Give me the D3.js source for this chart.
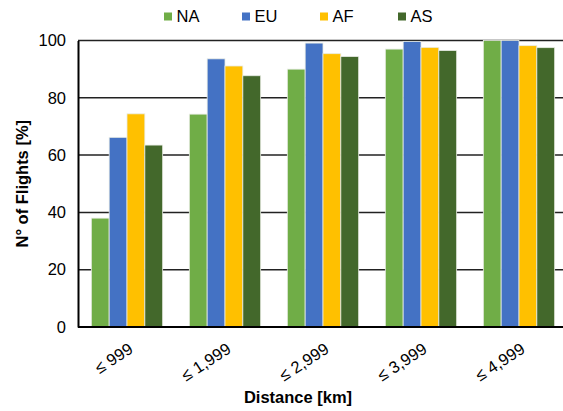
<!DOCTYPE html>
<html>
<head>
<meta charset="utf-8">
<script src="https://cdn.jsdelivr.net/npm/d3@7"></script>
<style>
  body { margin: 0; background: #fff; }
  text { font-family: "Liberation Sans", Arial, sans-serif; fill: #000; }
</style>
</head>
<body>
<div id="chart"></div>
<script>
// categories and series
const categories = ["≤ 999", "≤ 1,999", "≤ 2,999", "≤ 3,999", "≤ 4,999"];
const seriesNames = ["NA", "EU", "AF", "AS"];
const seriesColors = ["#70ad47", "#4472c4", "#ffc000", "#43682b"];
const valuesNA = [38.0, 74.3, 90.0, 97.0, 100];
const valuesEU = [66.2, 93.6, 99.1, 99.7, 100];
const valuesAF = [74.4, 91.1, 95.4, 97.6, 98.2];
const valuesAS = [63.5, 87.7, 94.4, 96.5, 97.5];
const yTicks = [0, 20, 40, 60, 80, 100];

const allValues = [valuesNA, valuesEU, valuesAF, valuesAS];

// set the dimensions and margins of the graph
const W = 563, H = 411;
const margin = { top: 40.5, right: 0, bottom: 84, left: 78 };
const width = W - margin.left - margin.right,
    height = H - margin.top - margin.bottom;
const fontSize = "16.5px";

const svg = d3.select("#chart")
    .append("svg")
    .attr("width", W)
    .attr("height", H);

const g = svg.append("g")
    .attr("transform", `translate(${margin.left},${margin.top})`);

// scales
const x = d3.scaleBand()
    .domain(categories)
    .range([0, 490])
    .paddingInner(0.272)
    .paddingOuter(0.136);

const xInner = d3.scaleBand()
    .domain(seriesNames)
    .range([0, x.bandwidth()]);

const y = d3.scaleLinear()
    .domain([0, 100])
    .range([height, 0]);

// gridlines
g.append("g")
    .selectAll("line")
    .data(yTicks.slice(1))
    .join("line")
    .attr("x1", 0)
    .attr("x2", width)
    .attr("y1", d => y(d))
    .attr("y2", d => y(d))
    .attr("stroke", "#222")
    .attr("stroke-width", 1.5);

// bars
const groups = g.selectAll("g.grp")
    .data(categories)
    .join("g")
    .attr("class", "grp")
    .attr("transform", d => `translate(${x(d)},0)`);

groups.selectAll("rect")
    .data((d, i) => seriesNames.map((s, j) => ({ s: s, v: allValues[j][i], c: seriesColors[j] })))
    .join("rect")
    .attr("x", d => xInner(d.s))
    .attr("width", xInner.bandwidth())
    .attr("y", d => y(d.v))
    .attr("height", d => height - y(d.v))
    .attr("fill", d => d.c)
    .attr("stroke", "#e8ece4")
    .attr("stroke-width", 0.8);

// Y axis
const yAxis = g.append("g")
    .call(d3.axisLeft(y).tickValues(yTicks).tickSize(0).tickPadding(12));
yAxis.select(".domain").attr("stroke", "#000").attr("stroke-width", 2);
yAxis.selectAll("text")
    .style("font-size", fontSize)
    .style("font-family", "'Liberation Sans', Arial, sans-serif");

// X axis line
g.append("line")
    .attr("x1", 0)
    .attr("x2", width)
    .attr("y1", height)
    .attr("y2", height)
    .attr("stroke", "#000")
    .attr("stroke-width", 2);

// X labels, rotated
g.append("g")
    .selectAll("text")
    .data(categories)
    .join("text")
    .attr("transform", d => `translate(${x(d) + x.bandwidth() / 2 + 4},${height + 20}) rotate(-33)`)
    .attr("text-anchor", "end")
    .attr("dy", "0.35em")
    .style("font-size", fontSize)
    .text(d => d);

// axis titles
svg.append("text")
    .attr("x", 298)
    .attr("y", 403)
    .attr("text-anchor", "middle")
    .style("font-size", fontSize)
    .style("font-weight", "bold")
    .text("Distance [km]");

svg.append("text")
    .attr("transform", `translate(28,${margin.top + height / 2}) rotate(-90)`)
    .attr("text-anchor", "middle")
    .style("font-size", fontSize)
    .style("font-weight", "bold")
    .text("N° of Flights [%]");

// legend
const legend = svg.append("g")
    .attr("transform", "translate(164,16.5)");
const item = legend.selectAll("g")
    .data(seriesNames)
    .join("g")
    .attr("transform", (d, i) => `translate(${i * 78},0)`);
item.append("rect")
    .attr("x", 0)
    .attr("y", -4)
    .attr("width", 8)
    .attr("height", 8)
    .attr("fill", (d, i) => seriesColors[i]);
item.append("text")
    .attr("x", 12.5)
    .attr("y", 0)
    .attr("dy", "0.35em")
    .style("font-size", fontSize)
    .text(d => d);
</script>
</body>
</html>
